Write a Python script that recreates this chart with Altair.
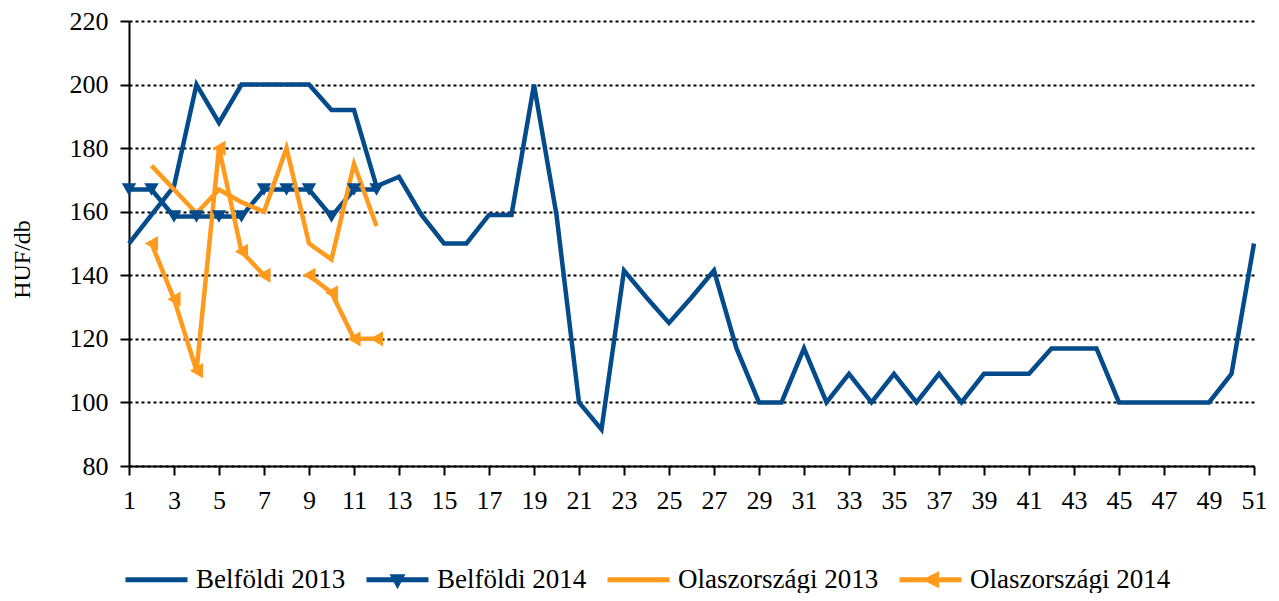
import altair as alt
import pandas as pd

weeks = list(range(1, 52))

belfoldi_2013 = [150, 159, 168, 200, 188, 200, 200, 200, 200, 192, 192, 168, 171, 159, 150, 150,
                 159, 159, 200, 159, 100, 91.5, 141.5, 133, 125, 133, 141.5, 117, 100, 100,
                 117, 100, 109, 100, 109, 100, 109, 100, 109, 109, 109, 117, 117, 117, 100,
                 100, 100, 100, 100, 109, 150]

belfoldi_2014_weeks = list(range(1, 13))
belfoldi_2014 = [167, 167, 158.5, 158.5, 158.5, 158.5, 167, 167, 167, 158.5, 167, 167]

olasz_2013_weeks = list(range(2, 13))
olasz_2013 = [174.5, 167, 159.5, 167, 163, 160, 180, 150, 145, 175, 155.5]

olasz_2014_weeks = [2, 3, 4, 5, 6, 7, 9, 10, 11, 12]
olasz_2014 = [150, 132.5, 110, 180, 147.5, 140, 140, 134.5, 120, 120]
olasz_2014_segment = ["a", "a", "a", "a", "a", "a", "b", "b", "b", "b"]

series_names = ["Belföldi 2013", "Belföldi 2014", "Olaszországi 2013", "Olaszországi 2014"]
BLUE = "#034B8B"
ORANGE = "#FF9A1C"
series_colors = [BLUE, BLUE, ORANGE, ORANGE]
legend_paths = [
    "M-3.1,-0.25L3.1,-0.25L3.1,0.25L-3.1,0.25Z",
    "M-3.1,-0.25L3.1,-0.25L3.1,0.25L-3.1,0.25Z M-0.8,-0.55L0.8,-0.55L0,0.95Z",
    "M-3.1,-0.25L3.1,-0.25L3.1,0.25L-3.1,0.25Z",
    "M-3.1,-0.25L3.1,-0.25L3.1,0.25L-3.1,0.25Z M-0.85,0L0.85,-0.85L0.85,0.85Z",
]

rows = []
for w, v in zip(weeks, belfoldi_2013):
    rows.append({"week": w, "value": v, "series": series_names[0], "seg": "a", "grp": "blue"})
for w, v in zip(belfoldi_2014_weeks, belfoldi_2014):
    rows.append({"week": w, "value": v, "series": series_names[1], "seg": "a", "grp": "blue"})
for w, v in zip(olasz_2013_weeks, olasz_2013):
    rows.append({"week": w, "value": v, "series": series_names[2], "seg": "a", "grp": "orange"})
for w, v, s in zip(olasz_2014_weeks, olasz_2014, olasz_2014_segment):
    rows.append({"week": w, "value": v, "series": series_names[3], "seg": s, "grp": "orange"})
df = pd.DataFrame(rows)
df["key"] = df["series"] + "-" + df["seg"]

FONT = "Liberation Serif"

x_enc = alt.X(
    "week:Q",
    scale=alt.Scale(domain=[1, 51], nice=False, zero=False),
    axis=alt.Axis(
        values=weeks,
        labelExpr="datum.value % 2 == 1 ? datum.label : ''",
        grid=False,
        title=None,
        tickSize=9,
        labelPadding=12,
        labelFlush=False,
        labelOverlap=False,
    ),
)
y_enc = alt.Y(
    "value:Q",
    scale=alt.Scale(domain=[80, 220], nice=False, zero=False),
    axis=alt.Axis(
        values=list(range(80, 221, 20)),
        title="HUF/db",
        grid=True,
        gridColor="black",
        gridDash=[3, 3],
        gridWidth=2,
        gridOpacity=1,
        tickSize=9,
        labelPadding=12,
        titleAngle=270,
        titleX=-100,
        titleY=238,
        titleAlign="center",
        titleBaseline="alphabetic",
    ),
)

base = alt.Chart(df)

blue_lines = base.transform_filter(alt.datum.grp == "blue").mark_line(
    strokeWidth=4.5, color=BLUE
).encode(x=x_enc, y=y_enc, detail="key:N")

orange_lines = base.transform_filter(alt.datum.grp == "orange").mark_line(
    strokeWidth=4.5, color=ORANGE
).encode(x=alt.X("week:Q"), y=alt.Y("value:Q"), detail="key:N")

b14_points = base.transform_filter(
    alt.datum.series == series_names[1]
).mark_point(filled=True, opacity=1, size=210, shape="triangle-down", color=BLUE).encode(
    x=alt.X("week:Q"),
    y=alt.Y("value:Q"),
)

o14_points = base.transform_filter(
    alt.datum.series == series_names[3]
).mark_point(filled=True, opacity=1, size=230, shape="triangle-left", color=ORANGE).encode(
    x=alt.X("week:Q"),
    y=alt.Y("value:Q"),
)

legend_def = alt.Legend(
    title=None,
    orient="none",
    direction="horizontal",
    legendX=14,
    legendY=545,
    symbolSize=400,
    symbolStrokeWidth=0,
    symbolOpacity=1,
    labelOffset=26,
    columnPadding=20,
    labelFont=FONT,
    labelFontSize=27,
    labelColor="black",
    labelLimit=0,
    columns=4,
)

legend_layer = base.mark_point(filled=True, opacity=0).encode(
    x=alt.X("week:Q"),
    y=alt.Y("value:Q"),
    color=alt.Color("series:N", scale=alt.Scale(domain=series_names, range=series_colors), legend=legend_def),
    shape=alt.Shape("series:N", scale=alt.Scale(domain=series_names, range=legend_paths), legend=legend_def),
)

chart = alt.layer(blue_lines, orange_lines, b14_points, o14_points, legend_layer).properties(
    width=1125,
    height=445,
    autosize=alt.AutoSizeParams(type="none"),
    padding={"left": 121, "top": 13, "right": 12, "bottom": 127},
    background="white",
).configure_view(
    stroke=None
).configure_axis(
    labelFont=FONT,
    labelFontSize=26,
    labelColor="black",
    titleFont=FONT,
    titleFontSize=24,
    titleFontWeight="normal",
    titleColor="black",
    domainColor="black",
    domainWidth=2,
    tickColor="black",
    tickWidth=2,
)

chart.save("out.html", embed_options={"renderer": "svg", "actions": False})
